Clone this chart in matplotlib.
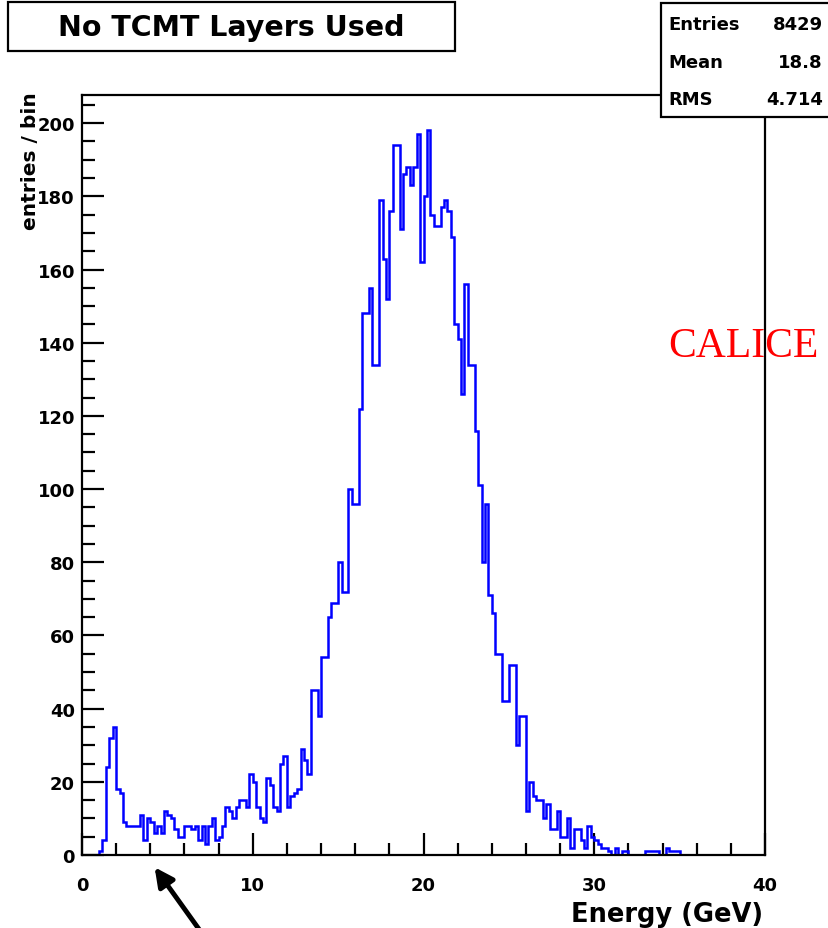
import numpy as np
import matplotlib
matplotlib.use('Agg')
import matplotlib.pyplot as plt
from matplotlib.patches import Rectangle, FancyArrowPatch

# ---------------- data ----------------
e_lo, e_hi, n_bins = 0.0, 40.0, 200          # 0.2 GeV bins
counts = [
    0, 0, 0, 0, 0, 1, 4, 24, 32, 35,            # 0-2 GeV
    18, 17, 9, 8, 8, 8, 8, 11, 4, 10,           # 2-4
    9, 6, 8, 6, 12, 11, 10, 7, 5, 5,            # 4-6
    8, 8, 7, 8, 4, 8, 3, 8, 10, 4,              # 6-8
    5, 8, 13, 12, 10, 13, 15, 15, 13, 22,       # 8-10
    20, 13, 10, 9, 21, 19, 13, 12, 25, 27,      # 10-12
    13, 16, 17, 18, 29, 26, 22, 45, 45, 38,     # 12-14
    54, 54, 65, 69, 69, 80, 72, 72, 100, 96,    # 14-16
    96, 122, 148, 148, 155, 134, 134, 179, 163, 152,   # 16-18
    176, 194, 194, 171, 186, 188, 183, 188, 197, 162,  # 18-20
    180, 198, 175, 172, 172, 177, 179, 176, 169, 145,  # 20-22
    141, 126, 156, 134, 134, 116, 101, 80, 96, 71,     # 22-24
    66, 55, 55, 42, 42, 52, 52, 30, 38, 38,     # 24-26
    12, 20, 16, 15, 15, 10, 14, 7, 7, 12,       # 26-28
    5, 5, 10, 2, 7, 7, 4, 2, 8, 5,              # 28-30
    4, 3, 2, 2, 1, 0, 2, 0, 1, 1,               # 30-32
    0, 0, 0, 0, 0, 1, 1, 1, 1, 0,               # 32-34
    0, 2, 1, 1, 1, 0, 0, 0, 0, 0,               # 34-36
    0, 0, 0, 0, 0, 0, 0, 0, 0, 0,               # 36-38
    0, 0, 0, 0, 0, 0, 0, 0, 0, 0,               # 38-40
]
x_major = [0, 10, 20, 30, 40]
x_labels = ['0', '10', '20', '30', '40']
y_major = [0, 20, 40, 60, 80, 100, 120, 140, 160, 180, 200]
y_labels = [str(v) for v in y_major]
stats_names = ['Entries', 'Mean', 'RMS']
stats_values = ['8429', '18.8', '4.714']
title = 'No TCMT Layers Used'
x_title = 'Energy (GeV)'
y_title = 'entries / bin'

# ---------------- figure ----------------
W, H = 829, 929
plt.rcParams['font.family'] = ['DejaVu Sans']
fig = plt.figure(figsize=(W / 100, H / 100), dpi=100)
fig.patch.set_facecolor('white')

def fx(px):
    return px / W

def fy(py):
    return 1 - py / H

ax = fig.add_axes([fx(82), fy(856), (765 - 82) / W, (856 - 96) / H])
edges = np.linspace(e_lo, e_hi, n_bins + 1)
ax.stairs(counts, edges, color='#0000ff', lw=1.8, baseline=None, zorder=2)
ax.set_xlim(e_lo, e_hi)
ax.set_ylim(0, 207.7)

ax.set_xticks(x_major)
ax.set_xticklabels(x_labels)
ax.set_xticks(np.arange(0, 41, 2), minor=True)
ax.set_yticks(y_major)
ax.set_yticklabels(y_labels)
ax.set_yticks(np.arange(0, 206, 5), minor=True)

ax.tick_params(axis='both', which='both', direction='in', top=False, right=False,
               color='black', width=1.6)
ax.tick_params(axis='both', which='major', length=16)
ax.tick_params(axis='both', which='minor', length=9)
ax.tick_params(axis='x', which='major', pad=15, labelsize=13)
ax.tick_params(axis='y', which='major', pad=5, labelsize=13)
for lab in ax.get_xticklabels() + ax.get_yticklabels():
    lab.set_fontweight('bold')
for s in ax.spines.values():
    s.set_linewidth(1.6)
    s.set_zorder(3)

# axis titles
fig.text(fx(763), fy(915), x_title, ha='right', va='center', fontsize=18.5,
         fontweight='bold')
fig.text(fx(31), fy(92), y_title, rotation=90, ha='center', va='top',
         fontsize=14.5, fontweight='bold')

# title box
fig.add_artist(Rectangle((fx(8), fy(52)), (455 - 8) / W, (52 - 3) / H,
                         transform=fig.transFigure, facecolor='white',
                         edgecolor='black', lw=1.6, zorder=10))
fig.text(fx(231), fy(28), title, ha='center', va='center', fontsize=20.5,
         fontweight='bold', zorder=11)

# stats box
fig.add_artist(Rectangle((fx(661), fy(118)), (845 - 661) / W, (118 - 4) / H,
                         transform=fig.transFigure, facecolor='white',
                         edgecolor='black', lw=1.6, zorder=10))
for i, (n, v) in enumerate(zip(stats_names, stats_values)):
    yy = 25 + i * 37.5
    fig.text(fx(668), fy(yy), n, ha='left', va='center', fontsize=13,
             fontweight='bold', zorder=11)
    fig.text(fx(823), fy(yy), v, ha='right', va='center', fontsize=13,
             fontweight='bold', zorder=11)

# CALICE label
fig.text(fx(743), fy(347), 'CALICE', color='red', fontsize=30,
         family='Liberation Serif', ha='center', va='center', zorder=12)

# arrow
fig.add_artist(FancyArrowPatch((fx(206), fy(940)), (fx(153), fy(866)),
                               transform=fig.transFigure, arrowstyle='-|>',
                               mutation_scale=28, lw=3.5, color='black',
                               zorder=12))

fig.savefig('out.png', dpi=100)
